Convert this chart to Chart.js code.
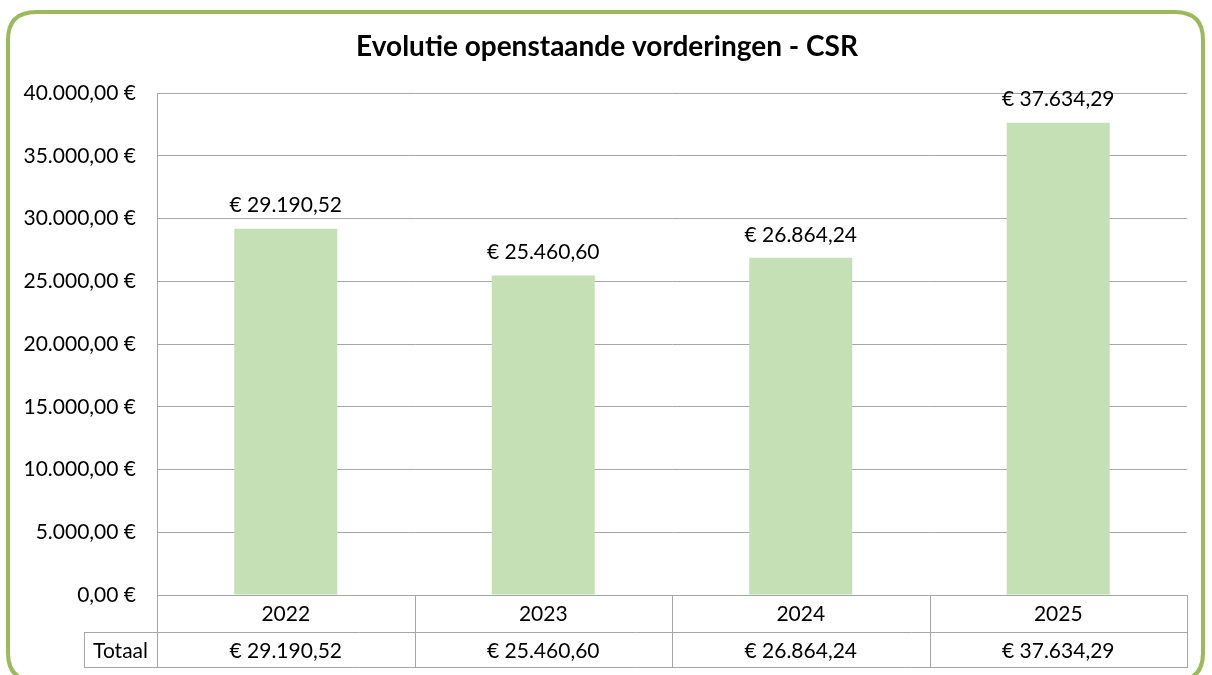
<!DOCTYPE html>
<html>
<head>
<meta charset="utf-8">
<script src="https://cdn.jsdelivr.net/npm/chart.js@4.4.1/dist/chart.umd.min.js"></script>
<style>
  html, body { margin: 0; padding: 0; background: #ffffff; }
  #wrap { width: 1212px; height: 675px; }
</style>
</head>
<body>
<div id="wrap"><canvas id="c" width="1212" height="675"></canvas></div>
<script>
const chartTitle = 'Evolutie openstaande vorderingen - CSR';
const categories = ['2022', '2023', '2024', '2025'];
const totals = [29190.52, 25460.60, 26864.24, 37634.29];
const rowLabel = 'Totaal';
const yMin = 0;
const yMax = 40000;
const yStep = 5000;

const FONT = 'Lato, "Open Sans", sans-serif';
const TEXT = '#000000';
const GRID = '#A6A6A6';
const BAR = '#C5E0B4';
const FRAME = '#9BBB59';

function groupNum(v) {
  const parts = Math.abs(v).toFixed(2).split('.');
  return parts[0].replace(/\B(?=(\d{3})+(?!\d))/g, '.') + ',' + parts[1];
}
const fmtEuroPre = v => '€ ' + groupNum(v);
const fmtEuroPost = v => groupNum(v) + ' €';

function roundRect(ctx, x, y, w, h, r) {
  ctx.beginPath();
  ctx.moveTo(x + r, y);
  ctx.lineTo(x + w - r, y);
  ctx.quadraticCurveTo(x + w, y, x + w, y + r);
  ctx.lineTo(x + w, y + h - r);
  ctx.quadraticCurveTo(x + w, y + h, x + w - r, y + h);
  ctx.lineTo(x + r, y + h);
  ctx.quadraticCurveTo(x, y + h, x, y + h - r);
  ctx.lineTo(x, y + r);
  ctx.quadraticCurveTo(x, y, x + r, y);
  ctx.closePath();
}

const framePlugin = {
  id: 'frame',
  beforeDraw(chart) {
    const ctx = chart.ctx;
    ctx.save();
    ctx.fillStyle = '#ffffff';
    ctx.fillRect(0, 0, chart.width, chart.height);
    ctx.restore();
  },
  afterDraw(chart) {
    const ctx = chart.ctx;
    ctx.save();
    ctx.strokeStyle = FRAME;
    ctx.lineWidth = 4;
    roundRect(ctx, 8, 12, chart.width - 17, chart.height - 6, 28);
    ctx.stroke();
    // title
    ctx.font = 'bold 28px ' + FONT;
    ctx.fillStyle = TEXT;
    ctx.textAlign = 'center';
    ctx.textBaseline = 'middle';
    ctx.fillText(chartTitle, chart.width / 2 + 1, 47);
    ctx.restore();
  }
};

const labelsAndTablePlugin = {
  id: 'labelsTable',
  afterDatasetsDraw(chart) {
    const ctx = chart.ctx;
    const meta = chart.getDatasetMeta(0);
    ctx.save();
    ctx.font = '21px ' + FONT;
    ctx.fillStyle = TEXT;
    ctx.textAlign = 'center';
    ctx.textBaseline = 'middle';
    meta.data.forEach((bar, i) => {
      ctx.fillText(fmtEuroPre(totals[i]), bar.x, bar.y - 23);
    });
    ctx.restore();
  },
  afterDraw(chart) {
    const ctx = chart.ctx;
    const xs = chart.scales.x;
    const area = chart.chartArea;
    const top = xs.top;
    const bottom = xs.bottom;
    const mid = (top + bottom) / 2;
    const catW = (area.right - area.left) / categories.length;
    const labelLeft = area.left - 73;
    ctx.save();
    ctx.strokeStyle = GRID;
    ctx.lineWidth = 1;
    ctx.beginPath();
    ctx.moveTo(labelLeft, Math.round(mid) + 0.5);
    ctx.lineTo(area.right, Math.round(mid) + 0.5);
    ctx.moveTo(labelLeft, Math.round(bottom) - 0.5);
    ctx.lineTo(area.right, Math.round(bottom) - 0.5);
    ctx.moveTo(labelLeft + 0.5, Math.round(mid));
    ctx.lineTo(labelLeft + 0.5, Math.round(bottom));
    for (let i = 0; i <= categories.length; i++) {
      const x = Math.round(area.left + i * catW) + 0.5;
      ctx.moveTo(x, top);
      ctx.lineTo(x, Math.round(bottom));
    }
    ctx.stroke();

    ctx.font = '21px ' + FONT;
    ctx.fillStyle = TEXT;
    ctx.textBaseline = 'middle';
    ctx.textAlign = 'center';
    const rowY = (mid + bottom) / 2 + 1;
    ctx.fillText(rowLabel, (labelLeft + area.left) / 2, rowY);
    categories.forEach((c, i) => {
      ctx.fillText(fmtEuroPre(totals[i]), xs.getPixelForValue(i), rowY);
    });
    ctx.restore();
  }
};

new Chart(document.getElementById('c'), {
  type: 'bar',
  data: {
    labels: categories,
    datasets: [{
      label: rowLabel,
      data: totals,
      backgroundColor: BAR,
      borderWidth: 0,
      barPercentage: 0.4,
      categoryPercentage: 1.0
    }]
  },
  options: {
    responsive: false,
    animation: false,
    devicePixelRatio: 1,
    layout: { padding: { left: 0, right: 25, top: 93, bottom: 7 } },
    plugins: {
      legend: { display: false },
      tooltip: { enabled: false },
      title: { display: false }
    },
    scales: {
      x: {
        grid: { display: false, drawTicks: false },
        border: { display: false },
        ticks: { color: TEXT, font: { family: FONT, size: 21 }, padding: 7 },
        afterFit(s) { s.height = 73; }
      },
      y: {
        min: yMin,
        max: yMax,
        ticks: {
          stepSize: yStep,
          color: TEXT,
          font: { family: FONT, size: 21 },
          padding: 21,
          callback: v => fmtEuroPost(v)
        },
        grid: { color: GRID, lineWidth: 1, drawTicks: false },
        border: { display: true, color: GRID, width: 1 },
        afterFit(s) { s.width = 157; }
      }
    }
  },
  plugins: [framePlugin, labelsAndTablePlugin]
});
</script>
</body>
</html>
